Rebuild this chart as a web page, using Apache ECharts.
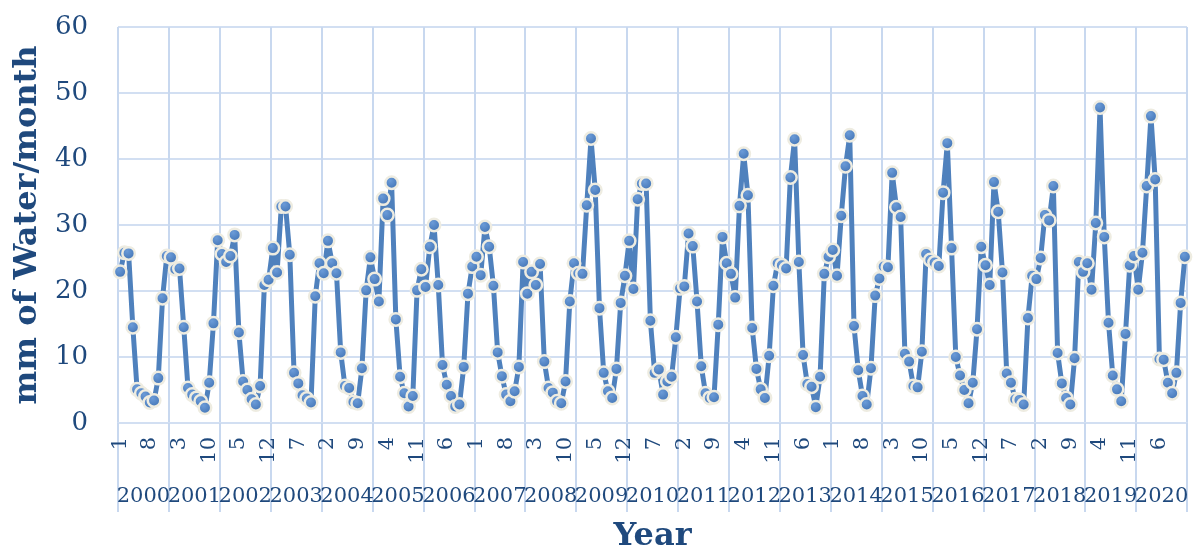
<!DOCTYPE html>
<html>
<head>
<meta charset="utf-8">
<script src="https://cdn.jsdelivr.net/npm/echarts@6/dist/echarts.min.js"></script>
<style>
  html, body { margin: 0; padding: 0; background: #ffffff; }
  #chart { width: 1195px; height: 554px; }
</style>
</head>
<body>
<div id="chart"></div>
<script>
// Years (outer category level)
const years = ['2000','2001','2002','2003','2004','2005','2006','2007','2008','2009','2010',
               '2011','2012','2013','2014','2015','2016','2017','2018','2019','2020'];
// Month numbers (inner category level)
const monthNames = ['1','2','3','4','5','6','7','8','9','10','11','12'];
// Y-axis ticks
const yTicks = [0, 10, 20, 30, 40, 50, 60];
// Monthly values, mm of water / month (one row per year, 2000 .. 2020)
const rainfall = [
  22.9, 25.8, 25.7, 14.5, 5.1, 4.5, 4.0, 3.1, 3.4, 6.8, 18.9, 25.3,
  25.1, 23.3, 23.4, 14.5, 5.3, 4.3, 3.8, 3.3, 2.3, 6.1, 15.1, 27.7,
  25.6, 24.4, 25.3, 28.5, 13.7, 6.3, 5.0, 3.6, 2.8, 5.6, 20.9, 21.7,
  26.5, 22.8, 32.8, 32.8, 25.5, 7.6, 6.0, 4.2, 3.7, 3.1, 19.2, 24.2,
  22.7, 27.6, 24.2, 22.7, 10.7, 5.6, 5.3, 3.2, 3.0, 8.3, 20.1, 25.1,
  21.8, 18.4, 34.0, 31.5, 36.4, 15.7, 7.0, 4.5, 2.5, 4.1, 20.1, 23.3,
  20.6, 26.7, 30.0, 20.9, 8.8, 5.8, 4.1, 2.5, 2.8, 8.5, 19.6, 23.7,
  25.2, 22.4, 29.7, 26.7, 20.8, 10.7, 7.1, 4.3, 3.3, 4.8, 8.5, 24.4,
  19.6, 22.9, 20.9, 24.1, 9.3, 5.3, 4.6, 3.3, 3.0, 6.3, 18.4, 24.2,
  22.7, 22.6, 33.0, 43.1, 35.3, 17.4, 7.6, 4.8, 3.8, 8.2, 18.2, 22.3,
  27.6, 20.3, 33.9, 36.3, 36.3, 15.5, 7.6, 8.1, 4.3, 6.3, 7.0, 13.0,
  20.4, 20.7, 28.7, 26.8, 18.4, 8.6, 4.5, 3.8, 3.9, 14.9, 28.2, 24.2,
  22.6, 19.0, 32.9, 40.8, 34.5, 14.4, 8.2, 5.1, 3.8, 10.2, 20.8, 24.2,
  23.9, 23.4, 37.2, 43.0, 24.4, 10.3, 5.9, 5.5, 2.4, 7.0, 22.6, 25.2,
  26.2, 22.3, 31.4, 38.9, 43.6, 14.7, 8.0, 4.1, 2.8, 8.3, 19.3, 21.9,
  23.7, 23.6, 37.9, 32.7, 31.2, 10.5, 9.3, 5.6, 5.4, 10.8, 25.6, 24.7,
  24.3, 23.8, 34.9, 42.4, 26.5, 10.0, 7.2, 5.0, 3.0, 6.1, 14.2, 26.7,
  23.9, 20.9, 36.5, 32.0, 22.8, 7.5, 6.1, 3.6, 3.5, 2.8, 15.9, 22.3,
  21.8, 25.0, 31.5, 30.7, 35.9, 10.6, 6.0, 3.8, 2.8, 9.8, 24.4, 22.9,
  24.2, 20.2, 30.3, 47.8, 28.2, 15.2, 7.2, 5.1, 3.3, 13.5, 23.9, 25.3,
  20.2, 25.8, 35.9, 46.5, 36.9, 9.7, 9.6, 6.1, 4.5, 7.6, 18.2, 25.2
];
const yTitle = 'mm of Water/month';
const xTitle = 'Year';

// Build the month category list (one per data point)
const monthCats = [];
years.forEach(y => monthNames.forEach(m => monthCats.push(m)));
const nMonths = monthCats.length;

const textColor = '#1f497d';
const gridColor = '#d2dff2';
const vGridColor = '#c8d8ef';
const serif = 'DejaVu Serif';

const chart = echarts.init(document.getElementById('chart'), null, { renderer: 'canvas' });
chart.setOption({
  animation: false,
  backgroundColor: '#ffffff',
  grid: { left: 118, right: 8, top: 27, bottom: 131, containLabel: false, outerBoundsMode: 'none' },
  xAxis: [
    {
      // inner level: month numbers
      type: 'category',
      data: monthCats,
      boundaryGap: true,
      axisLine: { show: false },
      axisTick: { show: false },
      splitLine: { show: false },
      axisLabel: {
        interval: 6, rotate: 90, margin: 14,
        color: textColor, fontFamily: serif, fontSize: 21
      }
    },
    {
      // outer level: years
      type: 'category',
      data: years,
      position: 'bottom',
      offset: 44,
      boundaryGap: true,
      axisLine: { show: false },
      axisTick: { show: false },
      splitLine: { show: false },
      axisLabel: {
        interval: 0, margin: 19,
        color: textColor, fontFamily: serif, fontSize: 21
      },
      name: xTitle,
      nameLocation: 'middle',
      nameGap: 54,
      nameTextStyle: { color: textColor, fontFamily: serif, fontSize: 32, fontWeight: 'bold' }
    },
    {
      // year boundaries: vertical gridlines and the separators through both label rows
      type: 'value',
      min: 0,
      max: nMonths,
      interval: monthNames.length,
      position: 'bottom',
      axisLine: { show: true, lineStyle: { color: gridColor, width: 2 } },
      axisTick: { show: true, inside: false, length: 89, lineStyle: { color: vGridColor, width: 2 } },
      splitLine: { show: true, lineStyle: { color: vGridColor, width: 2 } },
      axisLabel: { show: false }
    }
  ],
  yAxis: {
    type: 'value',
    min: yTicks[0],
    max: yTicks[yTicks.length - 1],
    interval: yTicks[1] - yTicks[0],
    axisLine: { show: false },
    axisTick: { show: false },
    splitLine: { show: true, lineStyle: { color: gridColor, width: 2 } },
    axisLabel: { margin: 30, color: textColor, fontFamily: serif, fontSize: 26 },
    name: yTitle,
    nameLocation: 'middle',
    nameGap: 61,
    nameRotate: 90,
    nameTextStyle: { color: textColor, fontFamily: serif, fontSize: 32, fontWeight: 'bold' }
  },
  series: [{
    type: 'line',
    xAxisIndex: 0,
    data: rainfall,
    symbol: 'circle',
    symbolSize: 12.5,
    showAllSymbol: true,
    lineStyle: { color: '#4f81bd', width: 5 },
    itemStyle: {
      color: new echarts.graphic.RadialGradient(0.4, 0.35, 0.7, [
        { offset: 0, color: '#6b9bd8' },
        { offset: 1, color: '#3d6fb0' }
      ]),
      borderColor: '#eeece1',
      borderWidth: 2.5
    },
    emphasis: { disabled: true }
  }]
});
</script>
</body>
</html>
